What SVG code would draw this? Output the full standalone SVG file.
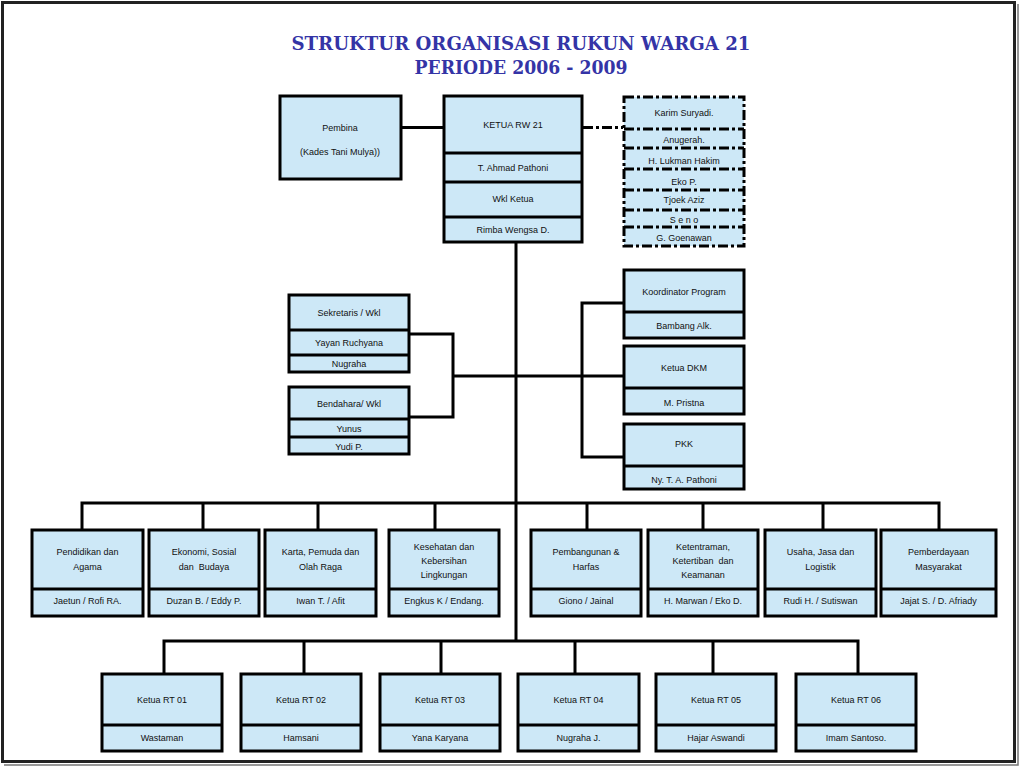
<svg xmlns="http://www.w3.org/2000/svg" width="1023" height="769" viewBox="0 0 1023 769">
<style>
.bx{fill:#CDE8F7;stroke:#000;stroke-width:3}
.dv{stroke:#000;stroke-width:3;fill:none}
.dd{stroke:#000;stroke-width:3;fill:none;stroke-dasharray:10 3 3 3}
.cn{stroke:#000;stroke-width:3;fill:none}
.t{font-family:"Liberation Sans",Arial,sans-serif;font-size:9px;fill:#111;text-anchor:middle}
.ti{font-family:"DejaVu Serif","Liberation Serif",serif;font-weight:bold;font-size:18px;fill:#3434A6;text-anchor:middle}
</style>
<rect x="0" y="0" width="1023" height="769" fill="#fff"/>
<rect x="2.5" y="2.5" width="1012" height="759" fill="none" stroke="#222" stroke-width="3"/>
<path d="M1018 4 V765 H4" fill="none" stroke="#777" stroke-width="1.5"/>
<g id="title">
<text class="ti" x="521" y="50" textLength="459" lengthAdjust="spacingAndGlyphs">STRUKTUR ORGANISASI RUKUN WARGA 21</text>
<text class="ti" x="521" y="74" textLength="213" lengthAdjust="spacingAndGlyphs">PERIODE 2006 - 2009</text>
</g>
<g id="connectors">
<path class="cn" d="M401 127.5 H443"/>
<path class="dd" d="M583 127.5 H623"/>
<path class="cn" d="M516 242 V641"/>
<path class="cn" d="M410 334 H453 V417 H410 M453 376 H582 M623 303 H582 V457 H623 M582 376 H623"/>
<path class="cn" d="M82 529 V503 H939 V529 M203 503 V529 M318 503 V529 M435 503 V529 M587 503 V529 M703 503 V529 M823 503 V529"/>
<path class="cn" d="M164 673 V641 H858 V673 M304 641 V673 M441 641 V673 M575 641 V673 M713 641 V673"/>
</g>
<g id="pembina">
<rect class="bx" x="280" y="96" width="121" height="83"/>
<text class="t" x="340" y="131">Pembina</text>
<text class="t" x="340" y="155">(Kades Tani Mulya))</text>
</g>
<g id="ketua">
<rect class="bx" x="444" y="96" width="138" height="146"/>
<path class="dv" d="M444 153 H582 M444 182 H582 M444 217 H582"/>
<text class="t" x="513" y="128">KETUA RW 21</text>
<text class="t" x="513" y="171">T. Ahmad Pathoni</text>
<text class="t" x="513" y="202">Wkl Ketua</text>
<text class="t" x="513" y="233">Rimba Wengsa D.</text>
</g>
<g id="penasehat">
<rect class="dd" x="624" y="97" width="120" height="149" style="fill:#CDE8F7"/>
<path class="dd" d="M624 129 H744 M624 148 H744 M624 169 H744 M624 190 H744 M624 210 H744 M624 227 H744"/>
<text class="t" x="684" y="116">Karim Suryadi.</text>
<text class="t" x="684" y="143">Anugerah.</text>
<text class="t" x="684" y="164">H. Lukman Hakim</text>
<text class="t" x="684" y="185">Eko P.</text>
<text class="t" x="684" y="203">Tjoek Aziz</text>
<text class="t" x="684" y="223">S e n o</text>
<text class="t" x="684" y="241">G. Goenawan</text>
</g>
<g id="sekretaris">
<rect class="bx" x="289" y="295" width="120" height="77"/>
<path class="dv" d="M289 330 H409 M289 355 H409"/>
<text class="t" x="349" y="316">Sekretaris / Wkl</text>
<text class="t" x="349" y="346">Yayan Ruchyana</text>
<text class="t" x="349" y="367">Nugraha</text>
</g>
<g id="bendahara">
<rect class="bx" x="289" y="387" width="120" height="67"/>
<path class="dv" d="M289 419 H409 M289 437 H409"/>
<text class="t" x="349" y="407">Bendahara/ Wkl</text>
<text class="t" x="349" y="432">Yunus</text>
<text class="t" x="349" y="450">Yudi P.</text>
</g>
<g id="koordinator">
<rect class="bx" x="624" y="270" width="120" height="68"/>
<path class="dv" d="M624 312 H744"/>
<text class="t" x="684" y="295">Koordinator Program</text>
<text class="t" x="684" y="329">Bambang Alk.</text>
</g>
<g id="dkm">
<rect class="bx" x="624" y="346" width="120" height="68"/>
<path class="dv" d="M624 388 H744"/>
<text class="t" x="684" y="371">Ketua DKM</text>
<text class="t" x="684" y="406">M. Pristna</text>
</g>
<g id="pkk">
<rect class="bx" x="624" y="424" width="120" height="65"/>
<path class="dv" d="M624 466 H744"/>
<text class="t" x="684" y="447">PKK</text>
<text class="t" x="684" y="483">Ny. T. A. Pathoni</text>
</g>
<g id="dept1">
<rect class="bx" x="32" y="530" width="111" height="86"/>
<path class="dv" d="M32 589 H143"/>
<text class="t" x="87.5" y="555">Pendidikan dan</text>
<text class="t" x="87.5" y="570">Agama</text>
<text class="t" x="87.5" y="604">Jaetun / Rofi RA.</text>
</g>
<g id="dept2">
<rect class="bx" x="149" y="530" width="110" height="86"/>
<path class="dv" d="M149 589 H259"/>
<text class="t" x="204" y="555">Ekonomi, Sosial</text>
<text class="t" x="204" y="570" xml:space="preserve">dan  Budaya</text>
<text class="t" x="204" y="604">Duzan B. / Eddy P.</text>
</g>
<g id="dept3">
<rect class="bx" x="265" y="530" width="111" height="86"/>
<path class="dv" d="M265 589 H376"/>
<text class="t" x="320.5" y="555">Karta, Pemuda dan</text>
<text class="t" x="320.5" y="570">Olah Raga</text>
<text class="t" x="320.5" y="604">Iwan T. / Afit</text>
</g>
<g id="dept4">
<rect class="bx" x="389" y="530" width="110" height="86"/>
<path class="dv" d="M389 589 H499"/>
<text class="t" x="444" y="550">Kesehatan dan</text>
<text class="t" x="444" y="564">Kebersihan</text>
<text class="t" x="444" y="578">Lingkungan</text>
<text class="t" x="444" y="604">Engkus K / Endang.</text>
</g>
<g id="dept5">
<rect class="bx" x="531" y="530" width="110" height="86"/>
<path class="dv" d="M531 589 H641"/>
<text class="t" x="586" y="555">Pembangunan &amp;</text>
<text class="t" x="586" y="570">Harfas</text>
<text class="t" x="586" y="604">Giono / Jainal</text>
</g>
<g id="dept6">
<rect class="bx" x="648" y="530" width="110" height="86"/>
<path class="dv" d="M648 589 H758"/>
<text class="t" x="703" y="550">Ketentraman,</text>
<text class="t" x="703" y="564" xml:space="preserve">Ketertiban  dan</text>
<text class="t" x="703" y="578">Keamanan</text>
<text class="t" x="703" y="604">H. Marwan / Eko D.</text>
</g>
<g id="dept7">
<rect class="bx" x="765" y="530" width="111" height="86"/>
<path class="dv" d="M765 589 H876"/>
<text class="t" x="820.5" y="555">Usaha, Jasa dan</text>
<text class="t" x="820.5" y="570">Logistik</text>
<text class="t" x="820.5" y="604">Rudi H. / Sutiswan</text>
</g>
<g id="dept8">
<rect class="bx" x="881" y="530" width="115" height="86"/>
<path class="dv" d="M881 589 H996"/>
<text class="t" x="938.5" y="555">Pemberdayaan</text>
<text class="t" x="938.5" y="570">Masyarakat</text>
<text class="t" x="938.5" y="604">Jajat S. / D. Afriady</text>
</g>
<g id="rt01">
<rect class="bx" x="102" y="674" width="120" height="77"/>
<path class="dv" d="M102 725 H222"/>
<text class="t" x="162" y="703">Ketua RT 01</text>
<text class="t" x="162" y="741">Wastaman</text>
</g>
<g id="rt02">
<rect class="bx" x="241" y="674" width="120" height="77"/>
<path class="dv" d="M241 725 H361"/>
<text class="t" x="301" y="703">Ketua RT 02</text>
<text class="t" x="301" y="741">Hamsani</text>
</g>
<g id="rt03">
<rect class="bx" x="380" y="674" width="120" height="77"/>
<path class="dv" d="M380 725 H500"/>
<text class="t" x="440" y="703">Ketua RT 03</text>
<text class="t" x="440" y="741">Yana Karyana</text>
</g>
<g id="rt04">
<rect class="bx" x="518" y="674" width="121" height="77"/>
<path class="dv" d="M518 725 H639"/>
<text class="t" x="578.5" y="703">Ketua RT 04</text>
<text class="t" x="578.5" y="741">Nugraha J.</text>
</g>
<g id="rt05">
<rect class="bx" x="656" y="674" width="120" height="77"/>
<path class="dv" d="M656 725 H776"/>
<text class="t" x="716" y="703">Ketua RT 05</text>
<text class="t" x="716" y="741">Hajar Aswandi</text>
</g>
<g id="rt06">
<rect class="bx" x="796" y="674" width="120" height="77"/>
<path class="dv" d="M796 725 H916"/>
<text class="t" x="856" y="703">Ketua RT 06</text>
<text class="t" x="856" y="741">Imam Santoso.</text>
</g>
</svg>
